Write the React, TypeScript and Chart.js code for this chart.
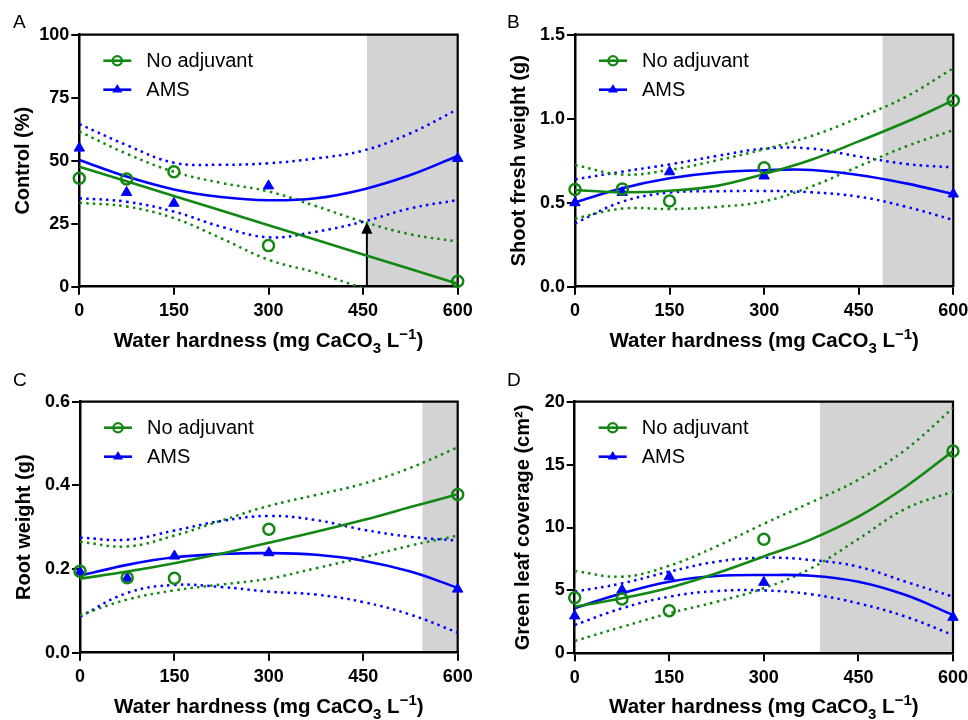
import React, { useEffect, useRef } from 'react';
import { Chart, registerables } from 'chart.js';
Chart.register(...registerables);

// ---------- data ----------
const hardness = [0, 75, 150, 300, 600];
const curveX = [0, 75, 150, 225, 300, 375, 450, 525, 600];
const lineX = [0, 150, 300, 450, 600];

// Panel A – Control (%)
const controlNoAdj = [43.0, 42.7, 45.6, 16.3, 2.2];
const controlAMS = [55.0, 37.4, 33.1, 40.0, 50.9];
const controlFitNoAdj = [47.6, 36.0, 24.4, 12.8, 1.2];
const controlUpperNoAdj = [61.6, 52.8, 45.6, 41.2, 37.8, 32.0, 25.8, 20.8, 17.9];
const controlLowerNoAdj = [33.3, 31.8, 27.2, 19.2, 10.7, 5.6, -0.6, -6.5, -12.5];
const controlFitAMS = [50.3, 43.7, 38.6, 35.6, 34.3, 35.1, 38.6, 44.3, 51.9];
const controlUpperAMS = [64.5, 56.2, 49.2, 48.4, 49.0, 50.9, 54.0, 60.9, 70.4];
const controlLowerAMS = [35.1, 33.7, 29.8, 23.8, 19.6, 21.8, 25.8, 31.1, 34.4];
const controlArrow = [456, 25.8];

// Panel B – Shoot fresh weight (g)
const shootNoAdj = [0.579, 0.581, 0.51, 0.708, 1.109];
const shootAMS = [0.5, 0.561, 0.684, 0.659, 0.552];
const shootFitNoAdj = [0.576, 0.562, 0.571, 0.6, 0.671, 0.756, 0.865, 0.98, 1.109];
const shootUpperNoAdj = [0.724, 0.668, 0.695, 0.752, 0.818, 0.897, 1.006, 1.131, 1.3];
const shootLowerNoAdj = [0.405, 0.465, 0.462, 0.475, 0.508, 0.597, 0.716, 0.835, 0.932];
const shootFitAMS = [0.502, 0.586, 0.645, 0.68, 0.693, 0.695, 0.665, 0.615, 0.552];
const shootUpperAMS = [0.639, 0.685, 0.728, 0.778, 0.822, 0.822, 0.775, 0.731, 0.71];
const shootLowerAMS = [0.377, 0.506, 0.56, 0.568, 0.57, 0.562, 0.536, 0.476, 0.397];

// Panel C – Root weight (g)
const rootNoAdj = [0.195, 0.179, 0.178, 0.295, 0.378];
const rootAMS = [0.193, 0.178, 0.231, 0.239, 0.152];
const rootFitNoAdj = [0.177, 0.194, 0.214, 0.237, 0.263, 0.289, 0.317, 0.348, 0.379];
const rootUpperNoAdj = [0.265, 0.254, 0.28, 0.316, 0.351, 0.377, 0.404, 0.442, 0.491];
const rootLowerNoAdj = [0.09, 0.127, 0.149, 0.163, 0.177, 0.202, 0.228, 0.256, 0.28];
const rootFitAMS = [0.184, 0.21, 0.228, 0.236, 0.238, 0.234, 0.22, 0.194, 0.155];
const rootUpperAMS = [0.275, 0.27, 0.292, 0.315, 0.327, 0.317, 0.294, 0.277, 0.268];
const rootLowerAMS = [0.086, 0.143, 0.162, 0.157, 0.146, 0.139, 0.121, 0.091, 0.048];

// Panel D – Green leaf coverage (cm2)
const leafNoAdj = [4.42, 4.32, 3.39, 9.06, 16.08];
const leafAMS = [2.97, 5.03, 6.09, 5.64, 2.86];
const leafFitNoAdj = [3.7, 4.37, 5.21, 6.36, 7.7, 9.06, 10.86, 13.24, 16.08];
const leafUpperNoAdj = [6.54, 6.09, 6.96, 8.5, 10.3, 12.0, 13.8, 16.2, 19.5];
const leafLowerNoAdj = [0.98, 2.1, 3.18, 4.1, 5.17, 6.76, 9.09, 11.5, 12.85];
const leafFitAMS = [3.58, 4.77, 5.69, 6.14, 6.22, 6.17, 5.69, 4.63, 3.04];
const leafUpperAMS = [4.9, 5.56, 6.49, 7.28, 7.6, 7.42, 6.88, 5.69, 4.5];
const leafLowerAMS = [2.25, 3.58, 4.5, 4.95, 5.0, 4.69, 3.97, 2.91, 1.45];

const panelLetters = ['A', 'B', 'C', 'D'];
const yTitles = ['Control (%)', 'Shoot fresh weight (g)', 'Root weight (g)', 'Green leaf coverage (cm²)'];
const yMaxes = [100, 1.5, 0.6, 20];
const ySteps = [25, 0.5, 0.2, 5];
const yDecimals = [0, 1, 1, 0];
const xTicksStep = 150;
const shadeFrom = [456, 488, 544, 389];
const seriesNames = ['No adjuvant', 'AMS'];

// ---------- styles / layout ----------
const GREEN = 'rgb(18,135,18)';
const BLUE = '#0000ff';
const SHADE = '#d3d3d3';
const FONT = "'Liberation Sans', Arial, sans-serif";

const layouts = [
  { left: 79.3, top: 34.7, right: 26.3, xh: 73.3, yTitlePad: 11, letterX: 13, letterY: 28, canvasX: 0, canvasY: 0 },
  { left: 91, top: 34.7, right: 14.7, xh: 73.3, yTitlePad: 23, letterX: 23, letterY: 28, canvasX: 484, canvasY: 0 },
  { left: 80, top: 41.7, right: 26.3, xh: 67.3, yTitlePad: 12, letterX: 13, letterY: 26, canvasX: 0, canvasY: 360 },
  { left: 90.7, top: 41.7, right: 15, xh: 66.7, yTitlePad: 27, letterX: 23, letterY: 26, canvasX: 484, canvasY: 360 },
];

const panelData = [
  [controlNoAdj, controlAMS, controlFitNoAdj, controlUpperNoAdj, controlLowerNoAdj, controlFitAMS, controlUpperAMS, controlLowerAMS],
  [shootNoAdj, shootAMS, shootFitNoAdj, shootUpperNoAdj, shootLowerNoAdj, shootFitAMS, shootUpperAMS, shootLowerAMS],
  [rootNoAdj, rootAMS, rootFitNoAdj, rootUpperNoAdj, rootLowerNoAdj, rootFitAMS, rootUpperAMS, rootLowerAMS],
  [leafNoAdj, leafAMS, leafFitNoAdj, leafUpperNoAdj, leafLowerNoAdj, leafFitAMS, leafUpperAMS, leafLowerAMS],
];

const pts = (xs: number[], ys: number[]) => ys.map((y, i) => ({ x: xs[i], y }));

function buildConfig(i: number): any {
  const L = layouts[i];
  const [noAdj, ams, fitN, upN, loN, fitA, upA, loA] = panelData[i];
  const fitNX = i === 0 ? lineX : curveX;
  const dotted = { borderWidth: 2.5, borderDash: [2.5, 4.2], pointRadius: 0, tension: 0.4, fill: false };
  const solid = { borderWidth: 2.6, pointRadius: 0, tension: 0.4, fill: false };
  const datasets: any[] = [
    { label: seriesNames[0], data: pts(hardness, noAdj), showLine: false, pointStyle: 'circle', pointRadius: 5.5, pointBorderWidth: 2.5, pointBorderColor: GREEN, pointBackgroundColor: 'rgba(0,0,0,0)', borderColor: GREEN, clip: false },
    { label: seriesNames[1], data: pts(hardness, ams), showLine: false, pointStyle: 'triangle', pointRadius: 6, pointBorderWidth: 1, pointBorderColor: BLUE, pointBackgroundColor: BLUE, borderColor: BLUE, clip: false },
    { data: pts(fitNX, fitN), borderColor: GREEN, ...solid },
    { data: pts(curveX, fitA), borderColor: BLUE, ...solid },
    { data: pts(curveX, upN), borderColor: GREEN, ...dotted },
    { data: pts(curveX, loN), borderColor: GREEN, ...dotted },
    { data: pts(curveX, upA), borderColor: BLUE, ...dotted },
    { data: pts(curveX, loA), borderColor: BLUE, ...dotted },
  ];

  const tickFont = { family: FONT, size: 18, weight: 'bold' as const };
  const decoPlugin = {
    id: 'deco' + i,
    beforeDraw(chart: any) {
      const { ctx, chartArea: a, scales } = chart;
      const xs = scales.x.getPixelForValue(shadeFrom[i]);
      ctx.save();
      ctx.fillStyle = SHADE;
      ctx.fillRect(xs, a.top, a.right - xs, a.bottom - a.top);
      ctx.restore();
    },
    beforeDatasetsDraw(chart: any) {
      const { ctx, chartArea: a, scales } = chart;
      ctx.save();
      ctx.strokeStyle = '#000';
      ctx.lineWidth = 2.2;
      ctx.beginPath();
      ctx.moveTo(a.left, a.top);
      ctx.lineTo(a.right, a.top);
      ctx.lineTo(a.right, a.bottom);
      ctx.stroke();
      if (i === 0) {
        const ax = scales.x.getPixelForValue(controlArrow[0]);
        const y0 = scales.y.getPixelForValue(0);
        const y1 = scales.y.getPixelForValue(controlArrow[1]);
        ctx.lineWidth = 2;
        ctx.beginPath();
        ctx.moveTo(ax, y0);
        ctx.lineTo(ax, y1 + 9);
        ctx.stroke();
        ctx.fillStyle = '#000';
        ctx.beginPath();
        ctx.moveTo(ax, y1);
        ctx.lineTo(ax - 5.5, y1 + 12);
        ctx.lineTo(ax + 5.5, y1 + 12);
        ctx.closePath();
        ctx.fill();
      }
      ctx.restore();
    },
    afterDraw(chart: any) {
      const { ctx, chartArea: a } = chart;
      ctx.save();
      // panel letter
      ctx.fillStyle = '#000';
      ctx.textBaseline = 'alphabetic';
      ctx.textAlign = 'left';
      ctx.font = `19px ${FONT}`;
      ctx.fillText(panelLetters[i], L.letterX, L.letterY);
      // legend
      const lx = a.left + 24;
      const rows = [a.top + 26, a.top + 55];
      const cols = [GREEN, BLUE];
      rows.forEach((ly, k) => {
        ctx.strokeStyle = cols[k];
        ctx.lineWidth = 2.6;
        ctx.setLineDash([]);
        ctx.beginPath();
        ctx.moveTo(lx, ly);
        ctx.lineTo(lx + 28, ly);
        ctx.stroke();
        const mx = lx + 14;
        if (k === 0) {
          ctx.lineWidth = 2.3;
          ctx.beginPath();
          ctx.arc(mx, ly, 4.6, 0, Math.PI * 2);
          ctx.stroke();
        } else {
          const r = 5.8;
          ctx.fillStyle = BLUE;
          ctx.beginPath();
          ctx.moveTo(mx, ly - r);
          ctx.lineTo(mx + r * 0.866, ly + r / 2);
          ctx.lineTo(mx - r * 0.866, ly + r / 2);
          ctx.closePath();
          ctx.fill();
        }
        ctx.fillStyle = '#000';
        ctx.font = `20px ${FONT}`;
        ctx.textBaseline = 'middle';
        ctx.fillText(seriesNames[k], a.left + 67, ly + 1);
      });
      // x axis title with sub/superscript
      const big = `bold 20.5px ${FONT}`;
      const small = `bold 15px ${FONT}`;
      const parts = [
        { t: 'Water hardness (mg CaCO', f: big, dy: 0 },
        { t: '3', f: small, dy: 6 },
        { t: ' L', f: big, dy: 0 },
        { t: '−1', f: small, dy: -8 },
        { t: ')', f: big, dy: 0 },
      ];
      let total = 0;
      const widths = parts.map((p) => {
        ctx.font = p.f;
        const w = ctx.measureText(p.t).width;
        total += w;
        return w;
      });
      let x = (a.left + a.right) / 2 - total / 2;
      const base = a.bottom + 60;
      ctx.textBaseline = 'alphabetic';
      parts.forEach((p, k) => {
        ctx.font = p.f;
        ctx.fillText(p.t, x, base + p.dy);
        x += widths[k];
      });
      ctx.restore();
    },
  };

  return {
    type: 'line',
    data: { datasets },
    plugins: [decoPlugin],
    options: {
      animation: false,
      responsive: false,
      devicePixelRatio: 1,
      layout: { padding: { left: 0, top: L.top, right: L.right, bottom: 0 } },
      plugins: { legend: { display: false }, tooltip: { enabled: false } },
      scales: {
        x: {
          type: 'linear',
          min: 0,
          max: 600,
          position: 'bottom',
          ticks: { stepSize: xTicksStep, font: tickFont, color: '#000', padding: 6, maxRotation: 0, autoSkip: false },
          grid: { drawOnChartArea: false, drawTicks: true, tickLength: 8, color: '#000', lineWidth: 2 },
          border: { display: true, color: '#000', width: 2.5 },
          afterFit: (s: any) => {
            s.height = L.xh;
            s.paddingLeft = 0;
            s.paddingRight = 0;
          },
        },
        y: {
          type: 'linear',
          min: 0,
          max: yMaxes[i],
          ticks: {
            stepSize: ySteps[i],
            font: tickFont,
            color: '#000',
            padding: 2,
            callback: (v: number) => Number(v).toFixed(yDecimals[i]),
          },
          grid: { drawOnChartArea: false, drawTicks: true, tickLength: 8, color: '#000', lineWidth: 2 },
          border: { display: true, color: '#000', width: 2.5 },
          title: { display: true, text: yTitles[i], color: '#000', font: { family: FONT, size: 20, weight: 'bold' }, padding: { top: L.yTitlePad, bottom: 0 } },
          afterFit: (s: any) => {
            s.width = L.left;
            s.paddingTop = 0;
            s.paddingBottom = 0;
          },
        },
      },
    },
  };
}

function Panel({ index }: { index: number }) {
  const ref = useRef<HTMLCanvasElement>(null);
  useEffect(() => {
    if (!ref.current) return;
    const chart = new Chart(ref.current, buildConfig(index));
    return () => chart.destroy();
  }, [index]);
  const L = layouts[index];
  return (
    <canvas
      ref={ref}
      width={484}
      height={360}
      style={{ position: 'absolute', left: L.canvasX, top: L.canvasY, width: 484, height: 360 }}
    />
  );
}

export default function App() {
  return (
    <div style={{ position: 'absolute', left: 0, top: 0, width: 968, height: 720, background: '#fff' }}>
      {[0, 1, 2, 3].map((i) => (
        <Panel key={i} index={i} />
      ))}
    </div>
  );
}
